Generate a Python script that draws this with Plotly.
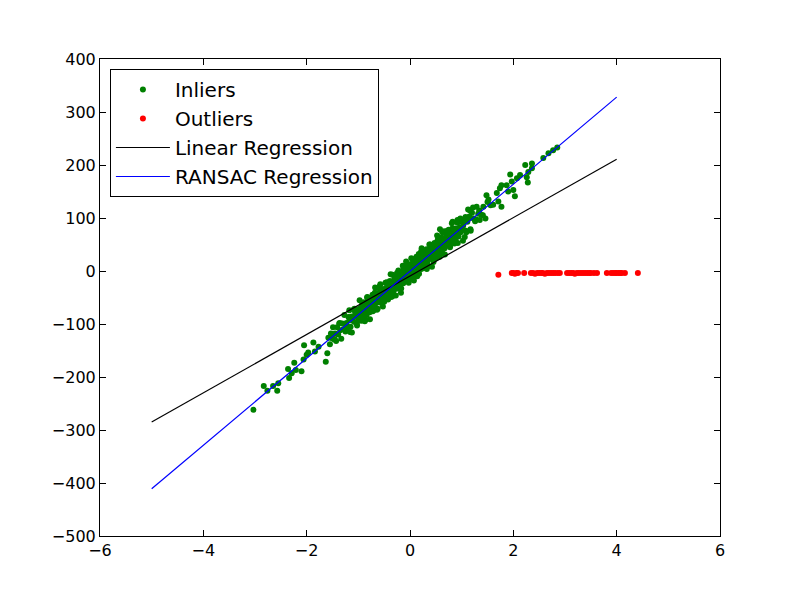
import plotly.graph_objects as go

# ---------------- data ----------------
inlier_x = [
    # left tail
    -3.03, -2.83, -2.76, -2.65, -2.57, -2.55, -2.36, -2.34, -2.29, -2.24, -2.21,
    -2.10, -2.06, -2.05, -2.00, -1.97, -1.87, -1.84, -1.77, -1.63, -1.60,
    # right tail
    2.85, 2.77, 2.68, 2.58, 2.36, 2.23, 2.36, 2.29, 2.28, 2.26, 2.13, 2.07, 2.03,
    2.00, 1.97, 1.94, 1.90, 1.87, 1.77, 1.77, 1.74, 1.71, 1.68, 1.61, 1.48, 1.35,
    1.16, 1.06, 0.81, 0.58,
    # segment A
    -1.58, -1.55, -1.53, -1.51, -1.49, -1.47, -1.45, -1.43, -1.41, -1.39,
    -1.37, -1.35, -1.33, -1.31, -1.29, -1.27, -1.25, -1.23, -1.21, -1.19,
    -1.17, -1.15, -1.13, -1.11, -1.09, -1.07, -1.05, -1.03, -1.02, -1.00,
    # segment B
    -0.99, -0.98, -0.97, -0.96, -0.95, -0.94, -0.93, -0.92, -0.91, -0.90,
    -0.89, -0.88, -0.87, -0.86, -0.85, -0.84, -0.83, -0.82, -0.81, -0.80,
    -0.79, -0.78, -0.77, -0.76, -0.75, -0.74, -0.73, -0.72, -0.71, -0.70,
    -0.69, -0.68, -0.67, -0.66, -0.65, -0.64, -0.63, -0.62, -0.61, -0.60,
    -0.59, -0.58, -0.57, -0.56, -0.55, -0.54, -0.53, -0.52, -0.51, -0.50,
    # segment C
    -0.49, -0.48, -0.47, -0.46, -0.45, -0.44, -0.43, -0.42, -0.41, -0.40,
    -0.39, -0.38, -0.37, -0.36, -0.35, -0.34, -0.33, -0.32, -0.31, -0.30,
    -0.29, -0.28, -0.27, -0.26, -0.25, -0.24, -0.23, -0.22, -0.21, -0.20,
    -0.19, -0.18, -0.17, -0.16, -0.15, -0.14, -0.13, -0.12, -0.11, -0.10,
    -0.09, -0.08, -0.07, -0.06, -0.05, -0.04, -0.03, -0.02, -0.01, 0.00,
    # segment D
    0.01, 0.02, 0.03, 0.04, 0.05, 0.06, 0.07, 0.08, 0.09, 0.10,
    0.11, 0.12, 0.13, 0.14, 0.15, 0.16, 0.17, 0.18, 0.19, 0.20,
    0.21, 0.22, 0.23, 0.24, 0.25, 0.26, 0.27, 0.28, 0.29, 0.30,
    0.31, 0.32, 0.33, 0.34, 0.35, 0.36, 0.37, 0.38, 0.39, 0.40,
    0.41, 0.42, 0.43, 0.44, 0.45, 0.46, 0.47, 0.48, 0.49, 0.50,
    # segment E
    0.51, 0.52, 0.53, 0.54, 0.55, 0.56, 0.57, 0.58, 0.59, 0.60,
    0.61, 0.62, 0.63, 0.64, 0.65, 0.66, 0.67, 0.68, 0.69, 0.70,
    0.71, 0.72, 0.73, 0.74, 0.75, 0.76, 0.77, 0.78, 0.79, 0.80,
    0.82, 0.84, 0.86, 0.88, 0.90, 0.92, 0.94, 0.96, 0.98, 1.00,
    # segment F
    1.02, 1.05, 1.08, 1.11, 1.14, 1.17, 1.20, 1.23, 1.26, 1.29, 1.32, 1.38,
    1.42, 1.46, 1.52, 1.56,
    # extra central
    -0.785, -0.745, -0.705, -0.665, -0.625, -0.585, -0.545, -0.505, -0.465, -0.425,
    -0.385, -0.345, -0.305, -0.265, -0.225, -0.185, -0.145, -0.105, -0.065, -0.025,
    0.015, 0.055, 0.095, 0.135, 0.175, 0.215, 0.255, 0.295, 0.335, 0.375,
    0.415, 0.455, 0.495, 0.535, 0.575, 0.615, 0.655, 0.695, 0.735, 0.775,
    # extra shoulders
    -1.46, -1.36, -1.26, -1.16, -1.06, -0.96, -0.88, -0.84,
    0.84, 0.88, 0.92, 0.97, 1.03, 1.09, 1.15, 1.22, 1.28, 1.34, 1.41, 1.50,
    # band edges
    -1.175, -1.125, -1.075, -1.025, -0.975, -0.925, -0.875, -0.825, -0.775, -0.725,
    -0.675, -0.625, -0.575, -0.525, -0.475, -0.425, -0.375, -0.325, -0.275, -0.225,
    -0.175, -0.125, -0.075, -0.025, 0.025, 0.075, 0.125, 0.175, 0.225, 0.275,
    0.325, 0.375, 0.425, 0.475, 0.525, 0.575, 0.625, 0.675, 0.725, 0.775,
    0.825, 0.875, 0.925, 0.975, 1.025, 1.075, 1.125, 1.175,
]
inlier_y = [
    # left tail
    -262, -217, -226, -217, -226, -212, -185, -202, -193, -173, -187,
    -189, -167, -140, -158, -154, -135, -152, -143, -171, -155,
    # right tail
    233, 228, 222, 213, 203, 200, 194, 187, 167, 177, 181, 175, 141,
    153, 169, 182, 150, 162, 162, 121, 156, 131, 147, 125, 143, 96,
    114, 64, 90, 79,
    # segment A
    -126, -138, -118, -127, -106, -129, -118, -132, -106, -120,
    -99, -112, -128, -99, -110, -83, -114, -98, -106, -87,
    -92, -105, -86, -94, -73, -96, -85, -99, -74, -88,
    # segment B
    -86, -71, -93, -77, -72, -94, -64, -77, -84, -59,
    -73, -79, -66, -92, -60, -73, -50, -77, -63, -67,
    -57, -78, -68, -53, -75, -59, -54, -76, -46, -59,
    -66, -41, -55, -61, -48, -73, -42, -55, -32, -59,
    -45, -49, -39, -60, -50, -35, -56, -41, -36, -58,
    # segment C
    -36, -50, -32, -41, -21, -44, -34, -49, -24, -39,
    -19, -32, -49, -22, -33, -7, -39, -23, -32, -14,
    -20, -34, -15, -24, -4, -28, -18, -33, -7, -22,
    -3, -16, -33, -5, -16, 10, -23, -7, -16, 3,
    -3, -18, 1, -8, 12, -11, -1, -17, 9, -6,
    # segment D
    -4, 11, -11, 5, 10, -12, 18, 5, -2, 23,
    9, 3, 16, -10, 22, 9, 32, 5, 19, 15,
    25, 4, 14, 29, 8, 23, 28, 6, 36, 23,
    16, 41, 27, 21, 34, 9, 40, 27, 50, 23,
    37, 33, 43, 22, 32, 47, 26, 41, 46, 24,
    # segment E
    46, 32, 50, 41, 61, 38, 48, 33, 58, 43,
    63, 50, 33, 60, 49, 75, 43, 59, 50, 68,
    62, 48, 67, 58, 78, 54, 64, 49, 75, 60,
    80, 68, 52, 80, 70, 96, 65, 82, 73, 93,
    # segment F
    79, 95, 76, 93, 99, 79, 110, 99, 94, 121, 108, 106,
    121, 99, 135, 124,
    # extra central
    -52, -65, -74, -48, -51, -29, -54, -36, -51, -32,
    -23, -48, -24, -8, -24, -26, -6, 8, -7, -10,
    13, 1, -8, 18, 14, 37, 12, 29, 14, 34,
    43, 17, 42, 58, 41, 39, 60, 74, 58, 56,
    # extra shoulders
    -129, -98, -100, -115, -79, -82, -61, -83,
    75, 60, 91, 75, 86, 73, 103, 120, 97, 114, 105, 130,
    # band edges
    -74, -116, -71, -103, -55, -91, -95, -49, -91, -45,
    -31, -71, -25, -67, -22, -54, -6, -42, -46, 1,
    -41, 4, 18, -22, 24, -18, 27, -5, 43, 8,
    4, 50, 8, 53, 67, 27, 73, 31, 76, 45,
    93, 57, 53, 99, 57, 102, 116, 76,
]

outlier_x = [
    1.71, 1.97, 2.00, 2.03, 2.06, 2.09, 2.21, 2.34, 2.38, 2.42, 2.46, 2.50,
    2.54, 2.57, 2.61, 2.65, 2.69, 2.73, 2.77, 2.81, 2.86, 2.90, 3.04, 3.08,
    3.12, 3.16, 3.19, 3.23, 3.27, 3.31, 3.35, 3.39, 3.43, 3.47, 3.50, 3.56,
    3.62, 3.81, 3.89, 3.93, 3.97, 4.00, 4.04, 4.07, 4.10, 4.16, 4.41,
]
outlier_y = [
    -7, -4, -4, -5, -4, -4, -4, -4, -4, -5, -4, -4,
    -4, -4, -5, -4, -4, -4, -4, -4, -4, -4, -4, -4,
    -4, -4, -5, -4, -4, -4, -4, -4, -4, -4, -4, -4,
    -4, -4, -4, -4, -4, -4, -4, -4, -4, -4, -4,
]

line_x = [-5, -4, -3, -2, -1, 0, 1, 2, 3, 4]
linear_y = [-285, -230, -175, -120, -65, -10, 45, 100, 156, 211]
ransac_y = [-411, -329, -247, -165, -83, -1, 81, 163, 246, 328]

x_ticks = [-6, -4, -2, 0, 2, 4, 6]
y_ticks = [-500, -400, -300, -200, -100, 0, 100, 200, 300, 400]

# ---------------- figure ----------------
FONT = "DejaVu Sans"

fig = go.Figure()
fig.add_trace(go.Scatter(
    x=inlier_x, y=inlier_y, mode="markers", name="Inliers",
    marker=dict(color="#008000", size=6, line=dict(width=0)),
))
fig.add_trace(go.Scatter(
    x=outlier_x, y=outlier_y, mode="markers", name="Outliers",
    marker=dict(color="#ff0000", size=6, line=dict(width=0)),
))
fig.add_trace(go.Scatter(
    x=line_x, y=linear_y, mode="lines", name="Linear Regression",
    line=dict(color="#000000", width=1.2),
))
fig.add_trace(go.Scatter(
    x=line_x, y=ransac_y, mode="lines", name="RANSAC Regression",
    line=dict(color="#0000ff", width=1.2),
))

axis_common = dict(
    showgrid=False, zeroline=False, showline=True, linecolor="black",
    linewidth=1, mirror="ticks", ticks="inside", ticklen=6, tickcolor="black",
    tickfont=dict(family=FONT, size=16, color="black"),
)
fig.update_xaxes(range=[-6, 6], tickmode="array", tickvals=x_ticks,
                 ticktext=[f"\u2212{abs(v)}" if v < 0 else str(v) for v in x_ticks],
                 **axis_common)
fig.update_yaxes(range=[-500, 400], tickmode="array", tickvals=y_ticks,
                 ticktext=[f"\u2212{abs(v)}" if v < 0 else str(v) for v in y_ticks],
                 **axis_common)

fig.update_layout(
    width=800, height=596,
    margin=dict(l=92, r=88, t=51, b=68),
    paper_bgcolor="white", plot_bgcolor="white",
    font=dict(family=FONT, color="black"),
    showlegend=True,
    legend=dict(
        x=0.016, y=0.979, xanchor="left", yanchor="top",
        bordercolor="black", borderwidth=1, bgcolor="white",
        font=dict(family=FONT, size=20, color="black"),
        itemwidth=54, tracegroupgap=0,
    ),
)

fig.write_html("out.html")
